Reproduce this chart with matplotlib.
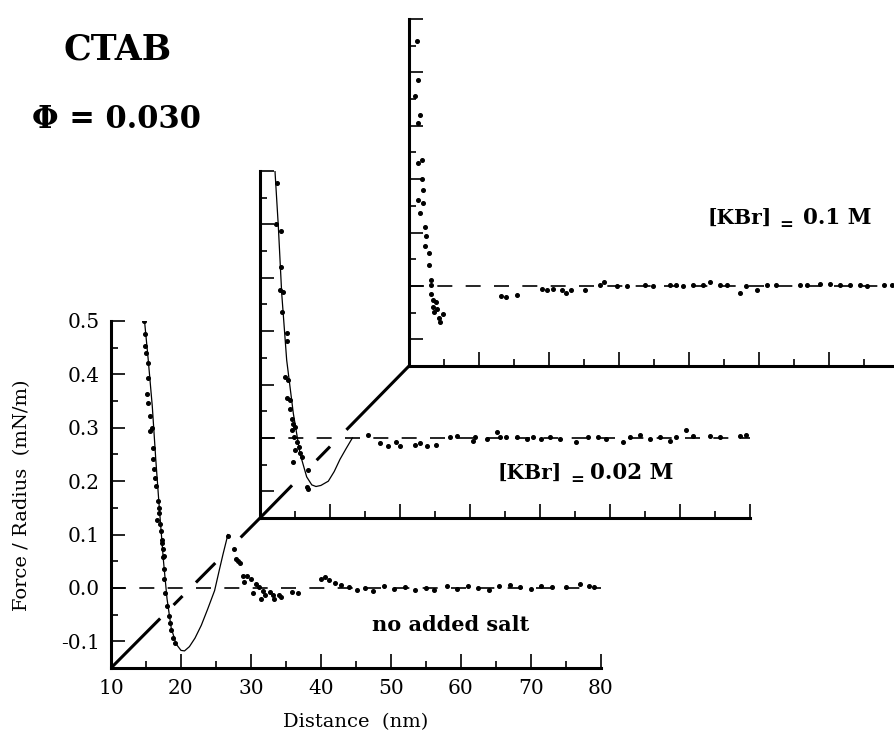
import matplotlib
matplotlib.use("Agg")
import matplotlib.pyplot as plt
from matplotlib.lines import Line2D
from matplotlib.ticker import MultipleLocator

plt.rcParams['font.family'] = ['DejaVu Serif']

# ---------------- data ----------------
# no added salt (front panel)
salt0_d = [14.76, 14.9, 15.0, 14.86, 15.24, 15.33, 15.1, 15.24, 15.57, 15.57, 15.8, 15.95, 15.95,
           16.19, 16.29, 16.4, 16.57, 16.67, 16.8, 16.9, 17.05, 17.14, 17.24, 17.3, 17.38, 17.48,
           17.6, 17.62, 17.52, 17.71, 17.95, 18.24, 18.4, 18.57, 18.81, 19.14,
           26.76, 27.6, 27.86, 28.1, 28.5, 28.8, 29.0, 29.5, 30.0, 30.3, 30.7, 31.2, 31.5, 31.7,
           32.0, 32.7, 33.1, 33.3, 34.0, 34.3, 35.9, 36.7,
           40.0, 40.6, 41.2, 42.0, 42.9, 44.0, 45.2, 46.3, 47.5, 49.0, 50.5, 52.0, 53.5, 55.0,
           56.2, 58.0, 59.5, 61.0, 62.5, 64.0, 65.5, 67.0, 68.5, 70.0, 71.5, 73.0, 75.0, 77.0,
           78.3, 79.0]
salt0_v = [0.50, 0.475, 0.44, 0.453, 0.422, 0.394, 0.363, 0.347, 0.322, 0.294, 0.30, 0.263, 0.241,
           0.222, 0.206, 0.19, 0.128, 0.163, 0.15, 0.141, 0.119, 0.106, 0.085, 0.09, 0.072, 0.057,
           0.06, 0.035, 0.016, -0.009, -0.034, -0.053, -0.065, -0.078, -0.093, -0.103,
           0.097, 0.072, 0.054, 0.051, 0.047, 0.023, 0.012, 0.023, 0.017, -0.010, 0.007, 0.002, -0.020, -0.005,
           -0.014, -0.008, -0.014, -0.020, -0.014, -0.017, -0.008, -0.010,
           0.017, 0.020, 0.014, 0.010, 0.005, 0.002, -0.004, 0.000, -0.006, 0.004, -0.002, 0.002, -0.003, 0.000,
           -0.004, 0.003, -0.002, 0.004, 0.000, -0.003, 0.003, 0.006, 0.001, -0.002, 0.004, 0.002, 0.001, 0.008,
           0.004, 0.002]
salt0_fit_d = [14.76, 15.3, 15.9, 16.4, 16.9, 17.5, 18.0, 18.6, 19.3, 20.0, 20.5, 21.2, 22.0, 22.9,
               23.8, 24.8, 25.5, 26.0, 26.7]
salt0_fit_v = [0.504, 0.43, 0.34, 0.24, 0.15, 0.05, -0.02, -0.075, -0.105, -0.117, -0.118, -0.11,
               -0.094, -0.07, -0.04, -0.005, 0.035, 0.063, 0.10]

# [KBr] = 0.02 M (middle panel)
kbr002_d = [12.38, 12.29, 13.0, 13.0, 12.86, 13.3, 13.1, 13.81, 13.81, 13.57, 14.05, 13.8, 14.3,
            14.3, 14.5, 14.76, 14.5, 15.0, 14.8, 15.24, 15.5, 15.0, 15.7, 16.0, 14.76, 16.9, 16.67, 16.9,
            25.5, 27.1, 28.3, 29.5, 30.0, 32.1, 32.9, 33.8, 35.2, 37.1, 38.1, 40.5, 40.7, 42.4, 43.8,
            44.3, 45.2, 46.7, 48.1, 49.0, 50.2, 51.4, 52.9, 55.2, 56.9, 58.3, 59.5, 61.9, 62.9, 64.3,
            65.7, 67.1, 68.6, 69.5, 70.9, 71.9, 74.3, 75.7, 78.6, 79.5]
kbr002_v = [0.477, 0.40, 0.387, 0.321, 0.277, 0.274, 0.236, 0.196, 0.181, 0.115, 0.108, 0.074, 0.071,
            0.055, 0.036, 0.027, 0.014, 0.020, 0.001, -0.007, -0.017, -0.023, -0.029, -0.035, -0.045, -0.060, -0.091, -0.095,
            0.006, -0.010, -0.016, -0.007, -0.016, -0.013, -0.010, -0.016, -0.013, 0.002, 0.003, -0.005, 0.002, -0.002, 0.011,
            0.002, 0.002, 0.002, -0.002, 0.002, -0.002, 0.002, -0.002, -0.007, 0.002, 0.002, -0.002, -0.007, 0.002, 0.006,
            -0.002, 0.002, -0.005, 0.002, 0.014, 0.004, 0.004, 0.002, 0.003, 0.006]
kbr002_fit_d = [12.14, 12.62, 13.1, 13.81, 14.76, 15.71, 16.67, 17.4, 18.0, 18.7, 19.76, 20.6, 21.43, 22.3, 23.2]
kbr002_fit_v = [0.50, 0.396, 0.271, 0.146, 0.046, -0.029, -0.073, -0.088, -0.091, -0.089, -0.081, -0.063, -0.040, -0.020, 0.0]

# [KBr] = 0.1 M (back panel)
kbr01_d = [11.1, 11.3, 10.9, 11.6, 11.35, 11.8, 11.3, 11.8, 12.0, 11.3, 12.05, 11.6, 12.3, 12.5, 12.3,
           12.8, 12.8, 13.2, 13.2, 13.2, 13.5, 13.9, 13.5, 14.0, 13.6, 14.8, 14.3, 14.5,
           23.2, 23.9, 25.4, 28.95, 29.7, 30.6, 31.8, 32.5, 33.2, 35.1, 37.3, 37.8, 39.7, 41.1, 43.7,
           44.9, 47.3, 48.2, 49.2, 50.6, 52.0, 53.0, 54.4, 55.4, 57.3, 58.2, 59.7, 61.1, 62.5, 65.9,
           66.8, 68.7, 70.1, 71.6, 73.0, 74.4, 75.4, 77.8, 78.95]
kbr01_v = [0.458, 0.386, 0.355, 0.320, 0.305, 0.236, 0.230, 0.201, 0.179, 0.161, 0.155, 0.136, 0.111, 0.093, 0.075,
           0.062, 0.040, 0.011, 0.001, -0.015, -0.027, -0.030, -0.040, -0.043, -0.049, -0.052, -0.061, -0.068,
           -0.019, -0.020, -0.017, -0.005, -0.008, -0.005, -0.008, -0.014, -0.008, -0.008, 0.001, 0.008, 0.000, -0.001, 0.001,
           0.000, 0.001, 0.002, -0.001, 0.001, 0.002, 0.008, 0.002, 0.001, -0.014, -0.001, -0.008, 0.001, 0.001, 0.001,
           0.002, 0.003, 0.004, 0.001, 0.001, 0.001, -0.001, 0.001, 0.001]

x_ticks = [10, 20, 30, 40, 50, 60, 70, 80]
y_ticks = [-0.1, 0.0, 0.1, 0.2, 0.3, 0.4, 0.5]
y_tick_labels = ['-0.1', '0.0', '0.1', '0.2', '0.3', '0.4', '0.5']

# ---------------- figure ----------------
W, H = 895, 732
fig = plt.figure(figsize=(W / 100, H / 100), dpi=100)

def px_axes(x0, y0, w=490, h=347):
    # x0,y0: pixel position of axes origin (bottom-left), y from top
    return fig.add_axes([x0 / W, (H - y0) / H, w / W, h / H])

ax3 = px_axes(409, 366)
ax2 = px_axes(260, 518)
ax1 = px_axes(111, 668)

for ax in (ax1, ax2, ax3):
    ax.patch.set_visible(False)
    ax.set_xlim(10, 80)
    ax.set_ylim(-0.15, 0.5)
    for s in ('top', 'right'):
        ax.spines[s].set_visible(False)
    for s in ('left', 'bottom'):
        ax.spines[s].set_linewidth(2.2)
        ax.spines[s].set_capstyle('projecting')
    ax.xaxis.set_major_locator(MultipleLocator(10))
    ax.xaxis.set_minor_locator(MultipleLocator(5))
    ax.yaxis.set_major_locator(MultipleLocator(0.1))
    ax.yaxis.set_minor_locator(MultipleLocator(0.05))
    ax.tick_params(which='major', direction='in', length=10, width=1.2)
    ax.tick_params(which='minor', direction='in', length=5, width=1.2)
    ax.tick_params(top=False, right=False)
    ax.tick_params(which='minor', top=False, right=False)

for ax in (ax2, ax3):
    ax.set_xticklabels([])
    ax.set_yticklabels([])

ax1.set_xticks(x_ticks)
ax1.set_xticklabels([str(t) for t in x_ticks], fontsize=14.5)
ax1.set_yticks(y_ticks)
ax1.set_yticklabels(y_tick_labels, fontsize=14.5)
ax1.tick_params(axis='x', pad=8)
ax1.tick_params(axis='y', pad=8)

dash_kw = dict(color='black', lw=1.2, dashes=(9, 8))
pt_kw = dict(linestyle='none', marker='o', markersize=2.6, color='black')
fit_kw = dict(color='black', lw=0.9)

# front
ax1.plot([10, 80], [0, 0], **dash_kw)
ax1.plot(salt0_fit_d, salt0_fit_v, **fit_kw)
ax1.plot(salt0_d, salt0_v, **pt_kw)
# middle
ax2.plot([10, 80], [0, 0], **dash_kw)
ax2.plot(kbr002_fit_d, kbr002_fit_v, **fit_kw)
ax2.plot(kbr002_d, kbr002_v, **pt_kw)
# back
ax3.plot([10, 80], [0, 0], **dash_kw)
ax3.plot(kbr01_d, kbr01_v, **pt_kw)

# ---------------- diagonal connecting the origins ----------------
def origin(ax):
    p = ax.get_position()
    return p.x0, p.y0

def seg(a, b, t0, t1):
    x = [a[0] + (b[0] - a[0]) * t0, a[0] + (b[0] - a[0]) * t1]
    y = [a[1] + (b[1] - a[1]) * t0, a[1] + (b[1] - a[1]) * t1]
    fig.add_artist(Line2D(x, y, transform=fig.transFigure, color='black', lw=2.2,
                          solid_capstyle='butt'))

o1, o2, o3 = origin(ax1), origin(ax2), origin(ax3)
for t0, t1 in [(0.0, 0.33), (0.42, 0.48), (0.57, 0.70), (0.87, 1.0)]:
    seg(o1, o2, t0, t1)
for t0, t1 in [(0.0, 0.215), (0.38, 0.47), (0.58, 1.0)]:
    seg(o2, o3, t0, t1)

# ---------------- texts ----------------
def ftext(x, y, s, **kw):
    return fig.text(x / W, 1 - y / H, s, **kw)

ftext(118, 50, 'CTAB', fontsize=25, fontweight='bold', ha='center', va='center')
ftext(116, 120, '\u03a6 = 0.030', fontsize=22, fontweight='bold', ha='center', va='center')

ftext(22, 495, 'Force / Radius  (mN/m)', fontsize=14, rotation=90, ha='center', va='center')
ftext(356, 722, 'Distance  (nm)', fontsize=14, ha='center', va='center')

ftext(451, 625, 'no added salt', fontsize=15, fontweight='bold', ha='center', va='center')

ftext(498, 473, '[KBr]', fontsize=14.5, fontweight='bold', ha='left', va='center')
ftext(577, 480, '=', fontsize=12, fontweight='bold', ha='center', va='center')
ftext(590, 473, '0.02 M', fontsize=15.5, fontweight='bold', ha='left', va='center')

ftext(708, 218, '[KBr]', fontsize=14.5, fontweight='bold', ha='left', va='center')
ftext(786, 225, '=', fontsize=12, fontweight='bold', ha='center', va='center')
ftext(803, 218, '0.1 M', fontsize=15.5, fontweight='bold', ha='left', va='center')

fig.savefig('out.png', dpi=100)
